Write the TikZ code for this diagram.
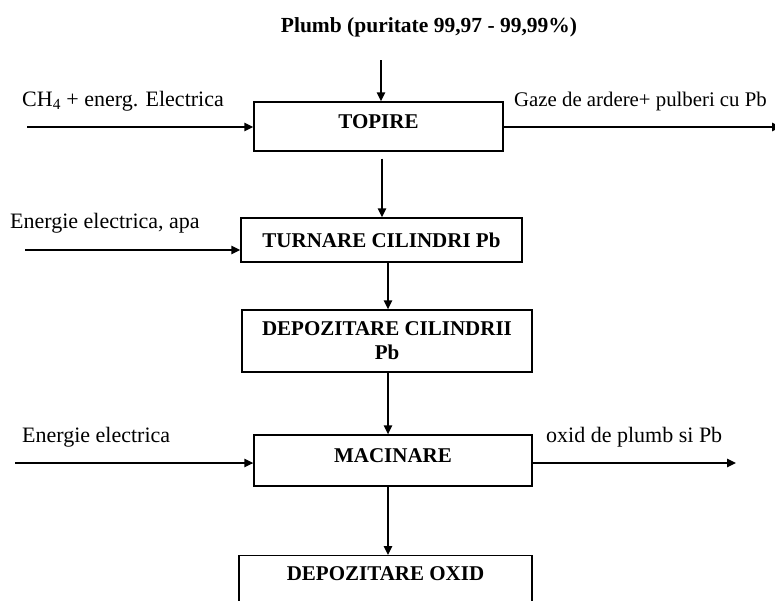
\documentclass[tikz,border=0pt]{standalone}
\usepackage{fontspec}
\setmainfont{Liberation Serif}
\usetikzlibrary{arrows.meta}
\begin{document}
\begin{tikzpicture}[x=1pt,y=-1pt,
  box/.style={draw,line width=1.4pt,inner sep=0pt,align=center,
    font=\fontsize{21}{24}\selectfont\bfseries},
  raised/.style={text height=14.5pt,text depth=10pt},
  flow/.style={line width=1.4pt,-{Triangle[length=9pt,width=8.5pt]}},
  lbl/.style={anchor=base west,inner sep=0pt,font=\fontsize{22}{24}\selectfont}]
\useasboundingbox (0,0) rectangle (775,600);

% title
\node[inner sep=0pt,font=\fontsize{21.5}{24}\selectfont\bfseries] (title) at (429,27)
  {Plumb (puritate 99,97 - 99,99\%)};

% process boxes
\node[box,raised,minimum width=249pt,minimum height=49pt] (topire) at (378.5,126.5) {TOPIRE};
\node[box,minimum width=281pt,minimum height=44pt] (turnare) at (381.5,240) {TURNARE CILINDRI Pb};
\node[box,minimum width=290pt,minimum height=62pt] (depcil) at (387,341) {DEPOZITARE CILINDRII\\Pb};
\node[box,raised,minimum width=278pt,minimum height=51pt] (macinare) at (393,460.5) {MACINARE};
\node[box,minimum width=293pt,anchor=north,inner ysep=4pt,text height=20.5pt,text depth=45pt]
  (depox) at (385.5,555) {DEPOZITARE OXID};

% vertical flow
\coordinate (ax) at (381,60);
\coordinate (bx) at (382,0);
\coordinate (cx) at (388,0);
\draw[flow] (ax) -- (topire.north -| ax);
\draw[flow,shorten <=7pt] (topire.south -| bx) -- (turnare.north -| bx);
\draw[flow] (turnare.south -| cx) -- (depcil.north -| cx);
\draw[flow] (depcil.south -| cx) -- (macinare.north -| cx);
\draw[flow] (macinare.south -| cx) -- (depox.north -| cx);

% inputs and outputs
\coordinate (in1) at (27,127);
\coordinate (out1) at (781,127);
\coordinate (in2) at (25,250);
\coordinate (in3) at (15,463);
\coordinate (out3) at (736,463);
\draw[flow] (in1) -- (topire.west |- in1);
\draw[flow] (topire.east |- out1) -- (out1);
\draw[flow] (in2) -- (turnare.west |- in2);
\draw[flow] (in3) -- (macinare.west |- in3);
\draw[flow] (macinare.east |- out3) -- (out3);

\node[lbl] (l1) at (22,106) {CH\textsubscript{4} + energ. Electrica};
\node[lbl,font=\fontsize{20.8}{24}\selectfont] (l2) at (514,106) {Gaze de ardere+ pulberi cu Pb};
\node[lbl] (l3) at (10,228) {Energie electrica, apa};
\node[lbl] (l4) at (22,442) {Energie electrica};
\node[lbl] (l5) at (546,442) {oxid de plumb si Pb};
\end{tikzpicture}
\end{document}
